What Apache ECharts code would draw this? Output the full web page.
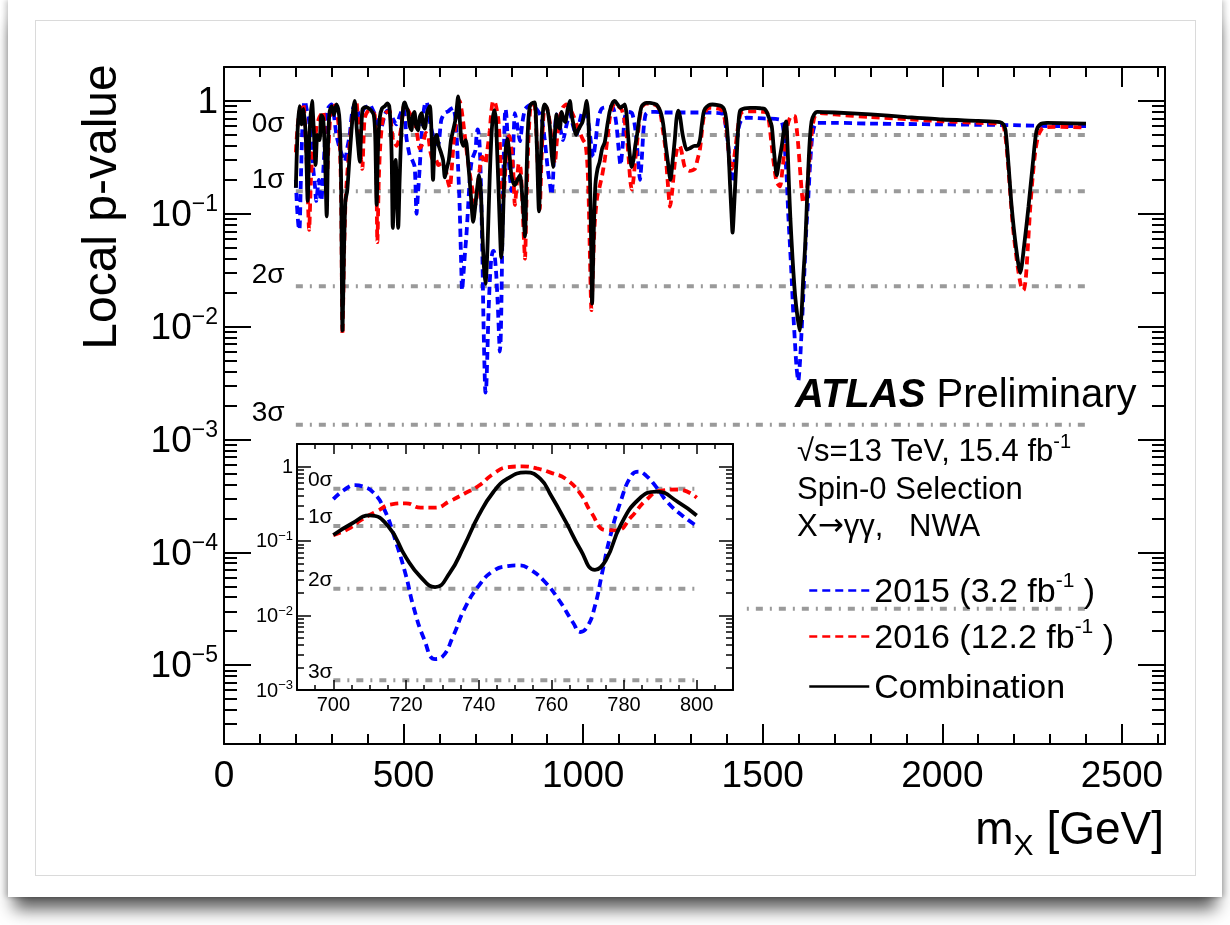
<!DOCTYPE html>
<html>
<head>
<meta charset="utf-8">
<title>Local p-value</title>
<script src="https://cdn.jsdelivr.net/npm/echarts@6/dist/echarts.min.js"></script>
<style>
  body { margin: 0; background: #fff; }
  .card {
    position: absolute; left: 8px; top: 0; width: 1214px; height: 897px; background: #fff;
    box-shadow: 0 18px 16px -6px rgba(0,0,0,0.65), -3px 0 5px rgba(0,0,0,0.18), 3px 0 5px rgba(0,0,0,0.18);
  }
  .frame { position: absolute; left: 35px; top: 20px; width: 1159px; height: 854px; border: 1px solid #dadada; }
  #chart { position: absolute; left: 0; top: 0; width: 1230px; height: 925px; }
</style>
</head>
<body>
<div class="card"></div>
<div class="frame"></div>
<div id="chart"></div>
<script>
// values: [m_X in GeV, local p-value]
const curve2015 = [
  [200,0.2],[203,0.12],[207,0.08],[210,0.072],[214,0.2],[218,0.55],[222,0.9],[225,1.0],[230,0.85],[236,0.7],
  [242,0.45],[248,0.26],[253,0.18],[257,0.13],[261,0.17],[264,0.2],[268,0.14],[271,0.13],[275,0.2],[280,0.38],
  [285,0.7],[290,0.87],[299,0.93],[306,0.75],[313,0.5],[322,0.38],[329,0.33],[336,0.29],[343,0.38],[350,0.5],
  [357,0.8],[364,0.93],[371,0.85],[378,0.71],[385,0.8],[392,0.87],[400,0.9],[406,0.93],[413,0.85],[420,0.76],
  [427,0.6],[434,0.5],[441,0.62],[448,0.76],[455,0.82],[462,0.78],[470,0.7],[480,0.62],[490,0.75],[499,0.87],
  [504,0.7],[508,0.47],[513,0.38],[517,0.33],[524,0.3],[531,0.26],[536,0.1],[540,0.15],[545,0.26],[550,0.5],
  [554,0.71],[559,0.93],[564,0.98],[570,0.75],[577,0.57],[587,0.44],[596,0.41],[605,0.68],[614,0.78],[624,0.81],
  [632,0.85],[638,0.87],[643,0.75],[647,0.54],[652,0.25],[656,0.12],[660,0.04],[663,0.021],[667,0.03],[671,0.045],
  [675,0.065],[680,0.12],[685,0.22],[690,0.3],[695,0.33],[700,0.364],[703,0.485],[706,0.56],[708,0.54],[711,0.447],
  [714,0.267],[717,0.105],[720,0.034],[722,0.0134],[725,0.0048],[728,0.0026],[730,0.0028],[733,0.0053],[736,0.012],[740,0.025],
  [744,0.0395],[748,0.046],[751,0.047],[754,0.042],[758,0.029],[762,0.0164],[766,0.008],[768,0.006],[770,0.0072],[772,0.0134],
  [774,0.0375],[776,0.105],[779,0.33],[782,0.75],[784,0.85],[786,0.76],[789,0.52],[792,0.33],[796,0.22],[800,0.159],
  [805,0.35],[810,0.78],[817,0.6],[824,0.44],[831,0.65],[838,0.84],[847,0.9],[856,0.93],[870,0.85],[884,0.71],
  [893,0.45],[902,0.24],[908,0.18],[912,0.148],[916,0.2],[921,0.5],[926,0.76],[935,0.6],[944,0.45],[953,0.6],
  [963,0.78],[972,0.6],[981,0.5],[990,0.65],[1000,0.82],[1008,0.78],[1016,0.6],[1022,0.42],[1028,0.32],[1035,0.45],
  [1042,0.7],[1050,0.84],[1056,0.87],[1070,0.88],[1084,0.86],[1093,0.6],[1098,0.4],[1104,0.27],[1110,0.4],[1116,0.72],
  [1125,0.8],[1136,0.78],[1144,0.6],[1150,0.4],[1155,0.25],[1158,0.2],[1163,0.3],[1168,0.55],[1174,0.76],[1185,0.8],
  [1200,0.8],[1230,0.79],[1260,0.79],[1300,0.79],[1340,0.79],[1380,0.78],[1390,0.76],[1397,0.6],[1404,0.4],[1409,0.25],
  [1413,0.19],[1418,0.22],[1422,0.3],[1427,0.42],[1434,0.6],[1441,0.68],[1455,0.71],[1500,0.7],[1548,0.685],[1555,0.62],
  [1559,0.5],[1563,0.32],[1567,0.2],[1571,0.1],[1576,0.051],[1581,0.025],[1585,0.0132],[1590,0.007],[1594,0.0044],[1599,0.0033],
  [1603,0.0045],[1606,0.0066],[1610,0.012],[1615,0.026],[1621,0.07],[1627,0.143],[1632,0.28],[1638,0.49],[1644,0.6],[1650,0.64],
  [1700,0.64],[1800,0.63],[1900,0.625],[2000,0.62],[2100,0.615],[2200,0.61],[2300,0.6],[2400,0.6]
];
const curve2016 = [
  [200,0.35],[205,0.6],[212,0.85],[220,0.95],[226,0.6],[232,0.2],[237,0.072],[242,0.2],[247,0.35],[252,0.4],
  [258,0.6],[266,0.72],[276,0.81],[281,0.45],[286,0.2],[291,0.4],[297,0.8],[303,0.93],[310,0.85],[317,0.7],
  [322,0.45],[326,0.15],[330,0.0085],[334,0.04],[338,0.12],[341,0.18],[348,0.35],[355,0.6],[362,0.85],[368,1.0],
  [373,0.7],[378,0.43],[382,0.3],[385,0.25],[389,0.5],[392,0.71],[399,0.8],[406,0.82],[414,0.8],[420,0.74],
  [424,0.3],[427,0.056],[431,0.2],[435,0.4],[441,0.65],[448,0.78],[455,0.8],[461,0.82],[466,0.6],[471,0.44],
  [476,0.42],[480,0.4],[487,0.45],[494,0.6],[499,0.85],[503,0.95],[510,0.85],[517,0.78],[524,0.72],[531,0.65],
  [538,0.5],[545,0.38],[550,0.4],[556,0.45],[562,0.52],[568,0.5],[575,0.35],[582,0.3],[590,0.3],[597,0.27],
  [605,0.28],[612,0.26],[618,0.24],[624,0.19],[629,0.17],[634,0.25],[640,0.45],[647,0.7],[652,0.92],[656,1.0],
  [661,0.85],[666,0.65],[672,0.45],[680,0.28],[687,0.2],[694,0.15],[700,0.12],[704,0.144],[708,0.196],[712,0.25],
  [716,0.31],[720,0.32],[724,0.28],[728,0.28],[732,0.34],[736,0.43],[740,0.55],[744,0.79],[748,0.98],[752,1.0],
  [756,0.94],[760,0.82],[764,0.68],[768,0.43],[771,0.24],[775,0.14],[778,0.139],[782,0.21],[786,0.35],[790,0.47],
  [795,0.49],[800,0.38],[805,0.25],[810,0.12],[815,0.18],[821,0.28],[826,0.25],[831,0.12],[835,0.06],[838,0.04],
  [842,0.12],[847,0.4],[852,0.8],[857,0.93],[864,0.93],[870,0.5],[875,0.2],[879,0.11],[884,0.3],[889,0.7],
  [894,0.9],[900,0.85],[907,0.65],[912,0.45],[917,0.32],[921,0.28],[927,0.45],[935,0.72],[944,0.88],[954,0.93],
  [963,0.85],[972,0.75],[982,0.62],[991,0.52],[1000,0.45],[1006,0.42],[1011,0.3],[1015,0.15],[1019,0.04],[1023,0.014],
  [1027,0.03],[1032,0.08],[1039,0.14],[1046,0.175],[1053,0.22],[1060,0.3],[1067,0.45],[1074,0.7],[1081,0.88],[1088,0.95],
  [1097,0.9],[1107,0.84],[1114,0.7],[1121,0.5],[1127,0.3],[1131,0.2],[1135,0.164],[1140,0.2],[1145,0.3],[1150,0.42],
  [1156,0.65],[1163,0.88],[1175,0.95],[1186,0.95],[1198,0.93],[1209,0.88],[1216,0.75],[1222,0.55],[1228,0.4],[1235,0.2],
  [1242,0.116],[1248,0.16],[1255,0.28],[1262,0.38],[1269,0.4],[1276,0.33],[1283,0.26],[1297,0.24],[1311,0.25],[1318,0.3],
  [1325,0.37],[1331,0.55],[1336,0.73],[1345,0.85],[1353,0.87],[1370,0.86],[1386,0.83],[1393,0.72],[1399,0.56],[1404,0.38],
  [1409,0.27],[1414,0.25],[1418,0.28],[1423,0.36],[1427,0.46],[1434,0.68],[1441,0.79],[1460,0.81],[1483,0.81],[1505,0.8],
  [1513,0.78],[1519,0.6],[1525,0.4],[1532,0.26],[1539,0.19],[1548,0.175],[1555,0.25],[1562,0.4],[1569,0.6],[1576,0.71],
  [1585,0.74],[1590,0.73],[1595,0.55],[1599,0.4],[1605,0.22],[1610,0.14],[1613,0.125],[1618,0.13],[1622,0.15],[1628,0.25],
  [1633,0.4],[1639,0.6],[1645,0.73],[1660,0.78],[1700,0.76],[1800,0.72],[1900,0.69],[2000,0.66],[2100,0.64],[2166,0.62],
  [2175,0.5],[2182,0.3],[2189,0.153],[2196,0.08],[2203,0.05],[2211,0.032],[2219,0.023],[2226,0.021],[2232,0.026],[2238,0.05],
  [2245,0.116],[2252,0.22],[2259,0.36],[2265,0.46],[2270,0.52],[2281,0.58],[2330,0.59],[2400,0.58]
];
const curveComb = [
  [200,0.17],[205,0.55],[210,0.9],[216,0.62],[222,0.85],[228,0.45],[233,0.13],[238,0.5],[245,1.0],[250,0.55],
  [255,0.27],[260,0.5],[266,0.45],[271,0.75],[276,0.7],[281,0.35],[286,0.095],[290,0.45],[294,0.8],[300,0.9],
  [306,0.75],[313,0.93],[318,0.85],[322,0.65],[326,0.2],[330,0.0092],[334,0.045],[338,0.13],[343,0.16],[349,0.3],
  [355,0.55],[360,0.85],[364,1.0],[369,0.6],[373,0.42],[378,0.29],[382,0.55],[386,0.85],[393,0.88],[401,0.87],
  [410,0.82],[417,0.75],[421,0.5],[425,0.12],[429,0.4],[434,0.72],[440,0.86],[448,0.9],[455,0.95],[460,0.9],
  [464,0.6],[467,0.3],[470,0.075],[474,0.17],[478,0.3],[481,0.16],[485,0.075],[489,0.2],[494,0.55],[499,0.88],
  [503,0.97],[508,0.88],[512,0.82],[517,0.6],[522,0.55],[525,0.72],[530,0.8],[535,0.6],[540,0.55],[545,0.72],
  [550,0.78],[555,0.6],[559,0.57],[566,0.8],[573,0.9],[578,0.5],[582,0.2],[587,0.45],[592,0.5],[598,0.4],
  [604,0.35],[610,0.3],[615,0.21],[620,0.25],[626,0.3],[632,0.45],[638,0.55],[645,0.7],[652,1.1],[657,0.65],
  [661,0.45],[667,0.4],[673,0.45],[680,0.28],[687,0.15],[694,0.085],[700,0.12],[705,0.17],[710,0.22],[715,0.16],
  [720,0.06],[724,0.033],[728,0.024],[732,0.037],[736,0.086],[740,0.22],[744,0.45],[748,0.69],[753,0.83],[757,0.68],
  [760,0.4],[764,0.18],[768,0.077],[772,0.041],[775,0.055],[779,0.16],[784,0.36],[789,0.46],[795,0.33],[800,0.22],
  [805,0.19],[810,0.18],[817,0.2],[824,0.22],[830,0.15],[834,0.1],[838,0.063],[842,0.2],[846,0.55],[851,0.88],
  [857,0.95],[865,0.97],[871,0.4],[877,0.105],[882,0.3],[888,0.8],[893,0.93],[900,0.85],[907,0.6],[912,0.35],
  [916,0.26],[921,0.5],[926,0.76],[930,0.6],[935,0.57],[940,0.8],[945,0.7],[950,0.65],[957,0.85],[963,1.0],
  [968,0.75],[974,0.6],[980,0.5],[986,0.55],[992,0.6],[998,0.65],[1004,0.8],[1010,1.0],[1014,0.75],[1018,0.3],
  [1022,0.06],[1025,0.016],[1029,0.06],[1034,0.18],[1040,0.25],[1046,0.29],[1053,0.38],[1060,0.43],[1067,0.6],[1074,0.81],
  [1081,0.95],[1088,1.0],[1096,0.93],[1104,0.87],[1110,0.9],[1116,0.93],[1121,0.75],[1125,0.5],[1130,0.33],[1135,0.26],
  [1140,0.3],[1145,0.4],[1150,0.5],[1156,0.7],[1162,0.88],[1167,0.93],[1176,0.96],[1186,0.96],[1195,0.95],[1204,0.93],
  [1212,0.85],[1218,0.75],[1223,0.62],[1230,0.4],[1237,0.27],[1243,0.2],[1248,0.27],[1255,0.45],[1260,0.7],[1265,0.82],
  [1270,0.72],[1275,0.55],[1280,0.45],[1288,0.37],[1297,0.38],[1310,0.4],[1318,0.4],[1325,0.45],[1330,0.6],[1335,0.78],
  [1340,0.86],[1350,0.92],[1360,0.93],[1375,0.92],[1385,0.9],[1392,0.85],[1398,0.7],[1404,0.4],[1409,0.18],[1413,0.1],
  [1416,0.068],[1420,0.11],[1424,0.2],[1427,0.3],[1432,0.6],[1437,0.82],[1450,0.86],[1465,0.87],[1480,0.87],[1495,0.86],
  [1505,0.85],[1511,0.8],[1518,0.7],[1525,0.6],[1530,0.4],[1535,0.27],[1539,0.22],[1544,0.27],[1553,0.4],[1560,0.58],
  [1565,0.66],[1569,0.4],[1573,0.18],[1577,0.09],[1583,0.04],[1590,0.019],[1597,0.012],[1603,0.0092],[1608,0.013],[1613,0.028],
  [1618,0.051],[1624,0.15],[1630,0.4],[1636,0.66],[1643,0.76],[1652,0.8],[1700,0.79],[1800,0.76],[1900,0.72],[2000,0.685],
  [2100,0.665],[2160,0.65],[2170,0.62],[2176,0.55],[2184,0.28],[2193,0.116],[2205,0.051],[2217,0.03],[2228,0.053],[2240,0.116],
  [2252,0.28],[2262,0.54],[2272,0.62],[2291,0.64],[2400,0.63]
];

const sigmaNames = ['0σ', '1σ', '2σ', '3σ', '4σ'];
const sigmaP = [0.5, 0.1587, 0.02275, 0.00135, 3.167e-5];
const massTicks = [0, 500, 1000, 1500, 2000, 2500];
const decadeTicks = [1e-5, 1e-4, 1e-3, 1e-2, 1e-1, 1];
const insetMassTicks = [700, 720, 740, 760, 780, 800];
const insetDecadeTicks = [1e-3, 1e-2, 1e-1, 1];

const FONT = '"Liberation Sans", Arial, Helvetica, sans-serif';

function logMinors(lo, hi) {
  const out = [];
  for (let e = -7; e <= 0; e++) {
    for (let k = 2; k <= 9; k++) {
      const v = k * Math.pow(10, e);
      if (v >= lo && v <= hi) out.push(v);
    }
  }
  return out;
}
function linMinors(lo, hi, step) {
  const out = [];
  for (let v = lo; v <= hi; v += step) out.push(v);
  return out;
}

function logLabel(v) {
  const e = Math.round(Math.log10(v));
  return e === 0 ? '{b|1}' : '{b|10}{s|\u2212' + (-e) + '}';
}

function frameAxis(o) {
  const ax = {
    type: o.type, gridIndex: o.grid, position: o.pos, min: o.min, max: o.max, z: o.z || 0,
    splitLine: { show: false },
    axisLine: { show: !!o.line, onZero: false, lineStyle: { color: '#000', width: o.lw || 2 } },
    axisTick: { show: true, inside: true, length: o.len, customValues: o.ticks,
      lineStyle: { color: '#000', width: o.tw || 2 } },
    axisLabel: { show: false },
    axisPointer: { show: false }
  };
  if (o.type === 'log') ax.logBase = 10;
  if (o.labels) {
    ax.axisLabel = Object.assign({ show: true, customValues: o.labels, color: '#000', fontFamily: FONT }, o.labelStyle);
  }
  return ax;
}

const mainX = { type: 'value', grid: 0, min: 0, max: 2620 };
const mainY = { type: 'log', grid: 0, min: 2e-6, max: 2 };
const insX = { type: 'value', grid: 1, min: 690, max: 810, z: 12, lw: 2, tw: 1.5 };
const insY = { type: 'log', grid: 1, min: 1e-3, max: 2, z: 12, lw: 2, tw: 1.5 };

const xAxes = [
  frameAxis(Object.assign({}, mainX, { pos: 'bottom', line: true, len: 20, ticks: massTicks, labels: massTicks,
    labelStyle: { fontSize: 37, margin: 14, formatter: v => String(v) } })),
  frameAxis(Object.assign({}, mainX, { pos: 'bottom', len: 10, ticks: linMinors(100, 2600, 100) })),
  frameAxis(Object.assign({}, mainX, { pos: 'top', line: true, len: 20, ticks: massTicks })),
  frameAxis(Object.assign({}, mainX, { pos: 'top', len: 10, ticks: linMinors(100, 2600, 100) })),
  frameAxis(Object.assign({}, insX, { pos: 'bottom', line: true, len: 10, ticks: insetMassTicks, labels: insetMassTicks,
    labelStyle: { fontSize: 20, margin: 5, formatter: v => String(v) } })),
  frameAxis(Object.assign({}, insX, { pos: 'bottom', len: 5, ticks: linMinors(695, 805, 5) })),
  frameAxis(Object.assign({}, insX, { pos: 'top', line: true, len: 10, ticks: insetMassTicks })),
  frameAxis(Object.assign({}, insX, { pos: 'top', len: 5, ticks: linMinors(695, 805, 5) }))
];

const yAxes = [
  frameAxis(Object.assign({}, mainY, { pos: 'left', line: true, len: 27, ticks: decadeTicks, labels: decadeTicks,
    labelStyle: { margin: 6, formatter: logLabel, rich: {
      b: { fontSize: 37, fontFamily: FONT, color: '#000', padding: [4, 0, 0, 0], verticalAlign: 'bottom' },
      s: { fontSize: 23, fontFamily: FONT, color: '#000', verticalAlign: 'top' } } } })),
  frameAxis(Object.assign({}, mainY, { pos: 'left', len: 13, ticks: logMinors(2e-6, 2) })),
  frameAxis(Object.assign({}, mainY, { pos: 'right', line: true, len: 27, ticks: decadeTicks })),
  frameAxis(Object.assign({}, mainY, { pos: 'right', len: 13, ticks: logMinors(2e-6, 2) })),
  frameAxis(Object.assign({}, insY, { pos: 'left', line: true, len: 14, ticks: insetDecadeTicks, labels: insetDecadeTicks,
    labelStyle: { margin: 4, formatter: logLabel, rich: {
      b: { fontSize: 20, fontFamily: FONT, color: '#000', padding: [2, 0, 0, 0], verticalAlign: 'bottom' },
      s: { fontSize: 13, fontFamily: FONT, color: '#000', verticalAlign: 'top' } } } })),
  frameAxis(Object.assign({}, insY, { pos: 'left', len: 7, ticks: logMinors(1e-3, 2) })),
  frameAxis(Object.assign({}, insY, { pos: 'right', line: true, len: 14, ticks: insetDecadeTicks })),
  frameAxis(Object.assign({}, insY, { pos: 'right', len: 7, ticks: logMinors(1e-3, 2) }))
];

const gray = { color: '#9a9a9a', width: 4, type: [7, 7, 2, 7] };

function curve(name, data, color, dashed, ax, z, smooth) {
  return {
    type: 'line', name: name, data: data, xAxisIndex: ax, yAxisIndex: ax, z: z,
    symbol: 'none', smooth: smooth, silent: true,
    itemStyle: { color: color },
    lineStyle: { color: color, width: 3.8, type: dashed ? [8, 5] : 'solid' }
  };
}

const inRange = d => d[0] >= 700 && d[0] <= 800;
const series = [];
sigmaP.forEach(p => series.push({ type: 'line', xAxisIndex: 0, yAxisIndex: 0, z: 1, symbol: 'none', silent: true,
  data: [[200, p], [2400, p]], lineStyle: gray }));
series.push(curve('2015', curve2015, '#0000ff', true, 0, 2, 0.25));
series.push(curve('2016', curve2016, '#ff0000', true, 0, 2, 0.25));
series.push(curve('Combination', curveComb, '#000000', false, 0, 3, 0.25));
sigmaP.slice(0, 4).forEach(p => series.push({ type: 'line', xAxisIndex: 4, yAxisIndex: 4, z: 10, symbol: 'none', silent: true,
  data: [[700, p], [800, p]], lineStyle: gray }));
series.push(curve('2015', curve2015.filter(inRange), '#0000ff', true, 4, 11, 0.5));
series.push(curve('2016', curve2016.filter(inRange), '#ff0000', true, 4, 11, 0.5));
series.push(curve('Combination', curveComb.filter(inRange), '#000000', false, 4, 11, 0.5));

const legendLabels = {
  '2015': '{t|2015 (3.2 fb}{s|-1}{t| )}',
  '2016': '{t|2016 (12.2 fb}{s|-1}{t| )}',
  'Combination': '{t|Combination}'
};
const legendRich = {
  t: { fontSize: 34, fontFamily: FONT, color: '#000', padding: [5, 0, 0, 0], verticalAlign: 'bottom' },
  s: { fontSize: 21, fontFamily: FONT, color: '#000', verticalAlign: 'top' }
};
function mkLegend(name, top) {
  return {
    data: [name], left: 808, top: top, orient: 'vertical', padding: 0,
    itemWidth: 60, itemHeight: 14, selectedMode: false,
    formatter: n => legendLabels[n],
    textStyle: { color: '#000', fontFamily: FONT, rich: legendRich },
    itemStyle: { opacity: 0 },
    lineStyle: { width: 2.5 }
  };
}

const chart = echarts.init(document.getElementById('chart'));
chart.setOption({
  animation: false,
  backgroundColor: 'transparent',
  grid: [
    { left: 224, top: 67, width: 941, height: 677 },
    { left: 297, top: 444, width: 436, height: 246 }
  ],
  xAxis: xAxes,
  yAxis: yAxes,
  legend: [mkLegend('2015', 571), mkLegend('2016', 617), mkLegend('Combination', 672)],
  series: series
});

// annotations placed through the axes' own scales
const gfx = [
  { type: 'rect', z: 5, silent: true, shape: { x: 252, y: 430, width: 493, height: 292 }, style: { fill: '#fff' } }
];
sigmaP.forEach((p, i) => {
  const pt = chart.convertToPixel({ xAxisIndex: 0, yAxisIndex: 0 }, [77, p]);
  gfx.push({ type: 'text', z: 4, x: pt[0], y: pt[1] + 3, silent: true,
    style: { text: sigmaNames[i], fontSize: 28, fontFamily: FONT, fill: '#000', align: 'left', verticalAlign: 'bottom' } });
});
sigmaP.slice(0, 4).forEach((p, i) => {
  const pt = chart.convertToPixel({ xAxisIndex: 4, yAxisIndex: 4 }, [693, p]);
  gfx.push({ type: 'text', z: 13, x: pt[0], y: pt[1] + 2, silent: true,
    style: { text: sigmaNames[i], fontSize: 21, fontFamily: FONT, fill: '#000', align: 'left', verticalAlign: 'bottom' } });
});
const txt = (x, y, text, size, extra) => ({ type: 'text', z: 20, x: x, y: y, silent: true,
  style: Object.assign({ text: text, fontSize: size, fontFamily: FONT, fill: '#000', align: 'left', verticalAlign: 'middle' }, extra || {}) });
gfx.push(txt(795, 396, '{a|ATLAS} {p|Preliminary}', 40, { rich: {
  a: { fontSize: 40, fontFamily: FONT, fontWeight: 'bold', fontStyle: 'italic', fill: '#000' },
  p: { fontSize: 40, fontFamily: FONT, fill: '#000' } } }));
gfx.push(txt(797, 450, '{n|\u221As=13 TeV, 15.4 fb}{s|-1}', 31, { rich: {
  n: { fontSize: 31, fontFamily: FONT, padding: [5, 0, 0, 0], verticalAlign: 'bottom' },
  s: { fontSize: 20, fontFamily: FONT, verticalAlign: 'top' } } }));
gfx.push(txt(797, 490, 'Spin-0 Selection', 31));
gfx.push(txt(797, 527, '{n|X}{a|\u2192}{n|\u03B3\u03B3,   NWA}', 31, { rich: {
  n: { fontSize: 31, fontFamily: FONT },
  a: { fontSize: 31, fontFamily: '"DejaVu Sans", sans-serif' } } }));
gfx.push({ type: 'text', z: 20, x: 103, y: 207, rotation: Math.PI / 2, silent: true,
  style: { text: 'Local p-value', fontSize: 48, fontFamily: FONT, fill: '#000', align: 'center', verticalAlign: 'middle' } });
gfx.push({ type: 'text', z: 20, x: 1164, y: 835, silent: true,
  style: { text: '{m|m}{x|X}{m| [GeV]}', fontFamily: FONT, fill: '#000', align: 'right', verticalAlign: 'middle',
    rich: {
      m: { fontSize: 46, fontFamily: FONT, padding: [0, 0, 8, 0], verticalAlign: 'top' },
      x: { fontSize: 30, fontFamily: FONT, verticalAlign: 'bottom' }
    } } });
chart.setOption({ graphic: gfx });
</script>
</body>
</html>
